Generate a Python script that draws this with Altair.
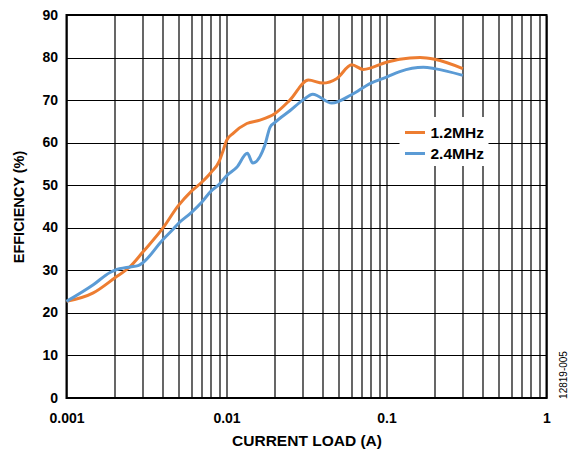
import altair as alt
import pandas as pd

# Efficiency vs. load current for two switching frequencies
load_12 = [0.001, 0.00147, 0.002, 0.0025, 0.003, 0.004, 0.005, 0.006, 0.007, 0.008,
           0.009, 0.0095, 0.01, 0.011, 0.0134, 0.0162, 0.02, 0.0249, 0.0325, 0.04,
           0.049, 0.0606, 0.0717, 0.1, 0.121, 0.162, 0.2, 0.3]
eff_12 = [22.7, 24.7, 28.2, 30.9, 34.3, 39.9, 45.2, 48.5, 50.7, 53.0,
          55.6, 58.0, 60.5, 62.2, 64.5, 65.3, 66.8, 70.0, 74.7, 74.0,
          75.1, 78.3, 77.2, 78.9, 79.6, 80.0, 79.6, 77.4]

load_24 = [0.001, 0.00147, 0.00187, 0.002, 0.0025, 0.0028, 0.003, 0.004, 0.0047, 0.005,
           0.006, 0.007, 0.008, 0.009, 0.01, 0.0116, 0.0135, 0.0146, 0.0174, 0.0187,
           0.02, 0.0249, 0.03, 0.0346, 0.0455, 0.06, 0.08, 0.1, 0.121, 0.17, 0.2, 0.3]
eff_24 = [22.7, 26.6, 29.5, 30.0, 30.8, 31.1, 31.8, 37.2, 39.9, 41.0,
          43.5, 46.0, 48.6, 50.2, 52.2, 54.2, 57.5, 55.2, 59.5, 63.6,
          64.7, 67.5, 70.0, 71.4, 69.3, 71.2, 74.0, 75.4, 76.7, 77.7, 77.4, 75.8]

series_names = ["1.2MHz", "2.4MHz"]
series_colors = ["#ED7D31", "#5B9BD5"]

decades = [0.001, 0.01, 0.1, 1]
y_ticks = [0, 10, 20, 30, 40, 50, 60, 70, 80, 90]
figure_id = "12819-005"

# Log grid: 1..9 in every decade, plus the final decade line
x_grid = [round(m * d, 6) for d in decades[:-1] for m in range(1, 10)] + [decades[-1]]

df = pd.concat([
    pd.DataFrame({"load": load_12, "eff": eff_12, "series": series_names[0]}),
    pd.DataFrame({"load": load_24, "eff": eff_24, "series": series_names[1]}),
])

FONT = "Liberation Sans"

x_axis = alt.Axis(
    values=x_grid,
    format="~g",
    labelExpr="abs(log(datum.value)/LN10 - round(log(datum.value)/LN10)) < 1e-6 ? datum.label : ''",
    labelFlush=False,
    labelOverlap=False,
    ticks=False,
    domain=False,
    grid=True,
    gridColor="#000000",
    gridWidth=1.2,
    gridOpacity=1,
    labelFont=FONT,
    labelFontSize=14,
    labelFontWeight="bold",
    labelColor="#000000",
    labelPadding=13,
    title="CURRENT LOAD (A)",
    titleFont=FONT,
    titleFontSize=15.5,
    titleFontWeight="bold",
    titleColor="#000000",
    titlePadding=8,
)

y_axis = alt.Axis(
    values=y_ticks,
    ticks=False,
    domain=False,
    grid=True,
    gridColor="#000000",
    gridWidth=1.2,
    gridOpacity=1,
    labelFont=FONT,
    labelFontSize=14,
    labelFontWeight="bold",
    labelColor="#000000",
    labelPadding=9,
    title="EFFICIENCY (%)",
    titleFont=FONT,
    titleFontSize=14.5,
    titleFontWeight="bold",
    titleColor="#000000",
    titlePadding=15,
)

lines = alt.Chart(df).mark_line(strokeWidth=3, interpolate="monotone").encode(
    x=alt.X("load:Q", scale=alt.Scale(type="log", domain=[0.001, 1]), axis=x_axis),
    y=alt.Y("eff:Q", scale=alt.Scale(domain=[0, 90]), axis=y_axis),
    color=alt.Color(
        "series:N",
        scale=alt.Scale(domain=series_names, range=series_colors),
        legend=alt.Legend(
            title=None,
            orient="none",
            legendX=333,
            legendY=102,
            fillColor="#ffffff",
            padding=4,
            symbolType="stroke",
            symbolStrokeWidth=3,
            symbolSize=400,
            labelFont=FONT,
            labelFontSize=15.5,
            labelFontWeight="bold",
            labelColor="#000000",
            labelOffset=4,
            rowPadding=1,
        ),
    ),
    order=alt.Order("series:N"),
)

fig_label = alt.Chart(pd.DataFrame({"t": [figure_id]})).mark_text(
    angle=270, font=FONT, fontSize=10, color="#000000", align="center", baseline="middle"
).encode(x=alt.value(497), y=alt.value(360), text="t:N")

chart = alt.layer(lines, fig_label).properties(
    width=480,
    height=383,
    autosize=alt.AutoSizeParams(type="none"),
    padding={"left": 66.5, "top": 15, "right": 23.5, "bottom": 54},
).configure_view(
    stroke="#000000",
    strokeWidth=2,
)

chart.save("out.html", embed_options={"renderer": "svg", "actions": False})
